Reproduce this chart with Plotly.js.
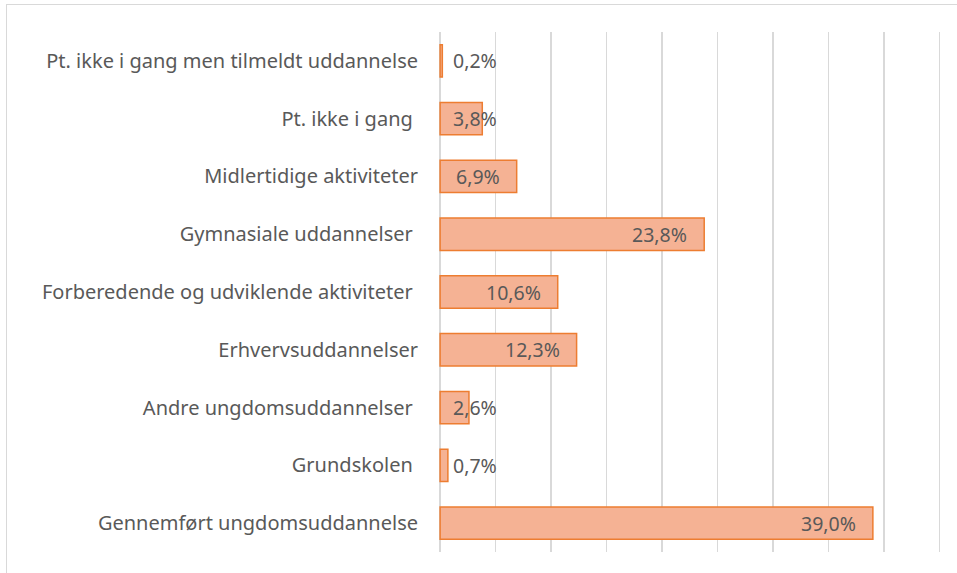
<!DOCTYPE html>
<html>
<head>
<meta charset="utf-8">
<script src="https://cdn.plot.ly/plotly-3.0.1.min.js"></script>
<style>
  html, body { margin: 0; padding: 0; background: #ffffff; overflow: hidden; }
  #frame { position: absolute; left: 6px; top: 4px; width: 1100px; height: 700px;
           border: 1.5px solid #D9D9D9; pointer-events: none; z-index: 5; }
  #chart { position: absolute; left: 0; top: 0; width: 957px; height: 573px; }
</style>
</head>
<body>
<div id="chart"></div>
<div id="frame"></div>
<script>
// Categories listed top to bottom as in the chart
const categories = [
  "Pt. ikke i gang men tilmeldt uddannelse",
  "Pt. ikke i gang\u00a0",
  "Midlertidige aktiviteter",
  "Gymnasiale uddannelser\u00a0",
  "Forberedende og udviklende aktiviteter\u00a0",
  "Erhvervsuddannelser",
  "Andre ungdomsuddannelser\u00a0",
  "Grundskolen\u00a0",
  "Gennemført ungdomsuddannelse"
];
const values = [0.2, 3.8, 6.9, 23.8, 10.6, 12.3, 2.6, 0.7, 39.0];
const labels = ["0,2%", "3,8%", "6,9%", "23,8%", "10,6%", "12,3%", "2,6%", "0,7%", "39,0%"];

const textColor = "#595959";
const fontFam = "Noto Sans, DejaVu Sans, sans-serif";

const trace = {
  type: "bar",
  orientation: "h",
  x: values,
  y: categories,
  marker: { color: "#F5B294", line: { color: "#ED7D31", width: 1.5 } },
  hoverinfo: "x+y"
};

// Data labels: inside end for bars that fit, otherwise starting near the axis
const annotations = values.map((v, i) => {
  const inside = v >= 5;
  return {
    x: inside ? v : 0,
    y: categories[i],
    xref: "x", yref: "y",
    text: labels[i],
    showarrow: false,
    xanchor: inside ? "right" : "left",
    yanchor: "middle",
    xshift: inside ? -15 : 11,
    font: { family: fontFam, size: 19.5, color: textColor }
  };
});

const layout = {
  width: 957,
  height: 573,
  margin: { l: 439, r: 12, t: 32, b: 21, pad: 0 },
  paper_bgcolor: "rgba(0,0,0,0)",
  plot_bgcolor: "rgba(0,0,0,0)",
  showlegend: false,
  bargap: 0.44,
  xaxis: {
    range: [-0.1, 45.5],
    dtick: 5,
    tick0: 0,
    showticklabels: false,
    ticks: "",
    showgrid: true,
    gridcolor: "#D9D9D9",
    gridwidth: 1.5,
    zeroline: false,
    showline: false,
    fixedrange: true
  },
  yaxis: {
    type: "category",
    autorange: "reversed",
    showgrid: false,
    zeroline: false,
    showline: false,
    ticks: "",
    ticklabelstandoff: 20,
    tickfont: { family: fontFam, size: 20, color: textColor },
    fixedrange: true
  },
  annotations: annotations
};

Plotly.newPlot("chart", [trace], layout, { displayModeBar: false, staticPlot: true });
</script>
</body>
</html>
